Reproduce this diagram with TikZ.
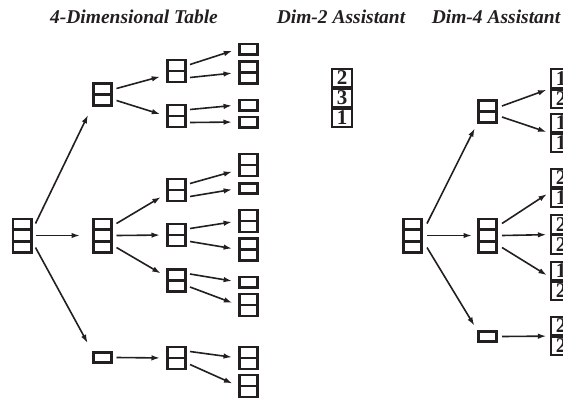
\documentclass[tikz,border=0pt]{standalone}
\usepackage{fontspec}
\setmainfont{Liberation Serif}
\usetikzlibrary{calc,arrows.meta}
\definecolor{ink}{RGB}{35,31,32}
\tikzset{
 tbx/.style={draw=ink, line width=2.7pt, minimum width=18.3pt, inner sep=0pt},
 tbl/.style={draw=ink, line width=2.5pt},
 arr/.style={draw=ink, line width=1.6pt, -{Latex[length=8.5pt,width=5.5pt]}},
 arrA/.style={arr, shorten >=6pt},
 arrR/.style={arr, shorten >=5pt},
 arrL/.style={arr, shorten >=3.5pt},
 dcell/.style={draw=ink, line width=1.7pt, minimum width=20.5pt, minimum height=18.5pt, inner sep=0pt, font=\fontsize{21}{21}\selectfont\bfseries, text=ink},
 ttl/.style={font=\fontsize{19.5}{21}\selectfont\bfseries\itshape, text=ink},
}
\newcommand\tabbox[4]{%
 \node[tbx, minimum height={#4*11.5pt-1.2pt}] (#1) at (#2,#3) {};
 \ifnum#4>1 \draw[tbl] ($(#1.north west)!1/#4!(#1.south west)$) -- ($(#1.north east)!1/#4!(#1.south east)$);\fi
 \ifnum#4>2 \draw[tbl] ($(#1.north west)!2/#4!(#1.south west)$) -- ($(#1.north east)!2/#4!(#1.south east)$);\fi
}
\begin{document}
\begin{tikzpicture}[x=1pt,y=-1pt]
\useasboundingbox (0,0) rectangle (563,400);
% titles
\node[ttl] (t1) at (134,17) {4-Dimensional Table};
\node[ttl] (t2) at (341,17) {Dim-2 Assistant};
\node[ttl] (t3) at (496,17) {Dim-4 Assistant};
% left tree
\tabbox{r}{22}{235.5}{3}
\tabbox{a1}{102.5}{94.5}{2}
\tabbox{a2}{102.5}{235.5}{3}
\tabbox{a3}{102.5}{357.5}{1}
\tabbox{b1}{176.5}{71}{2}
\tabbox{b2}{176.5}{116}{2}
\tabbox{b3}{176.5}{190}{2}
\tabbox{b4}{176.5}{235}{2}
\tabbox{b5}{176.5}{280.5}{2}
\tabbox{b6}{176.5}{358}{2}
\tabbox{c1}{248.5}{49}{1}
\tabbox{c2}{248.5}{72.5}{2}
\tabbox{c3}{248.5}{105}{1}
\tabbox{c4}{248.5}{122}{1}
\tabbox{c5}{248.5}{165}{2}
\tabbox{c6}{248.5}{188.5}{1}
\tabbox{c7}{248.5}{221}{2}
\tabbox{c8}{248.5}{249.5}{2}
\tabbox{c9}{248.5}{282}{1}
\tabbox{c10}{248.5}{305}{2}
\tabbox{c11}{248.5}{358}{2}
\tabbox{c12}{248.5}{386}{2}
\draw[arr, shorten >=9pt] ([xshift=3pt,yshift=12pt]r.east) -- (a1.south west);
\draw[arr, shorten >=12pt] ([xshift=3pt]r.east) -- (a2.west);
\draw[arr, shorten >=9pt] ([xshift=3pt,yshift=-12pt]r.east) -- (a3.north west);
\draw[arrA] ([xshift=3.5pt,yshift=6pt]a1.east) -- ([yshift=-4pt]b1.west);
\draw[arrA] ([xshift=3.5pt,yshift=-6pt]a1.east) -- (b2.west);
\draw[arrA] ([xshift=3.5pt,yshift=12pt]a2.east) -- ([yshift=-4pt]b3.west);
\draw[arrA] ([xshift=3.5pt]a2.east) -- (b4.west);
\draw[arrA] ([xshift=3.5pt,yshift=-12pt]a2.east) -- ([yshift=4pt]b5.west);
\draw[arrA] ([xshift=3.5pt]a3.east) -- (b6.west);
\draw[arrA] ([xshift=3pt,yshift=6.5pt]b1.east) -- (c1.west);
\draw[arrA] ([xshift=3pt,yshift=-6.5pt]b1.east) -- (c2.west);
\draw[arrA] ([xshift=3pt,yshift=6.5pt]b2.east) -- (c3.west);
\draw[arrA] ([xshift=3pt,yshift=-6.5pt]b2.east) -- (c4.west);
\draw[arrA] ([xshift=3pt,yshift=6.5pt]b3.east) -- ([yshift=-5pt]c5.west);
\draw[arrA] ([xshift=3pt,yshift=-6.5pt]b3.east) -- (c6.west);
\draw[arrA] ([xshift=3pt,yshift=6.5pt]b4.east) -- (c7.west);
\draw[arrA] ([xshift=3pt,yshift=-6.5pt]b4.east) -- (c8.west);
\draw[arrA] ([xshift=3pt,yshift=6.5pt]b5.east) -- (c9.west);
\draw[arrA] ([xshift=3pt,yshift=-6.5pt]b5.east) -- (c10.west);
\draw[arrA] ([xshift=3pt,yshift=6.5pt]b6.east) -- (c11.west);
\draw[arrA] ([xshift=3pt,yshift=-6.5pt]b6.east) -- (c12.west);
% Dim-2 assistant
\node[dcell] (d1) at (342,78) {2};
\node[dcell] (d2) at (342,98) {3};
\node[dcell] (d3) at (342,118) {1};
% Dim-4 assistant
\tabbox{R}{412.5}{235.5}{3}
\tabbox{T}{487.5}{111.5}{2}
\tabbox{M}{487.5}{235.5}{3}
\tabbox{B}{487.5}{336.5}{1}
\node[dcell] (L1a) at (561,78.5) {1};
\node[dcell] (L1b) at (561,99) {2};
\node[dcell] (L2a) at (561,123) {1};
\node[dcell] (L2b) at (561,143) {1};
\node[dcell] (L3a) at (561,178) {2};
\node[dcell] (L3b) at (561,198) {1};
\node[dcell] (L4a) at (561,224.5) {2};
\node[dcell] (L4b) at (561,244.5) {2};
\node[dcell] (L5a) at (561,271) {1};
\node[dcell] (L5b) at (561,291) {2};
\node[dcell] (L6a) at (561,326) {2};
\node[dcell] (L6b) at (561,346) {2};
\draw[arrR] ([xshift=4pt,yshift=12pt]R.east) -- (T.south west);
\draw[arrR] ([xshift=4pt]R.east) -- (M.west);
\draw[arrR] ([xshift=4pt,yshift=-12pt]R.east) -- (B.north west);
\draw[arrL] ([xshift=4pt,yshift=5.5pt]T.east) -- (L1a.south west);
\draw[arrL] ([xshift=4pt,yshift=-5.5pt]T.east) -- (L2a.south west);
\draw[arrL] ([xshift=4pt,yshift=12pt]M.east) -- ([yshift=-4pt]L3a.south west);
\draw[arrL] ([xshift=4pt]M.east) -- (L4a.south west);
\draw[arrL] ([xshift=4pt,yshift=-12pt]M.east) -- ([yshift=4pt]L5a.south west);
\draw[arrL] ([xshift=4pt]B.east) -- (L6a.south west);
\end{tikzpicture}
\end{document}
